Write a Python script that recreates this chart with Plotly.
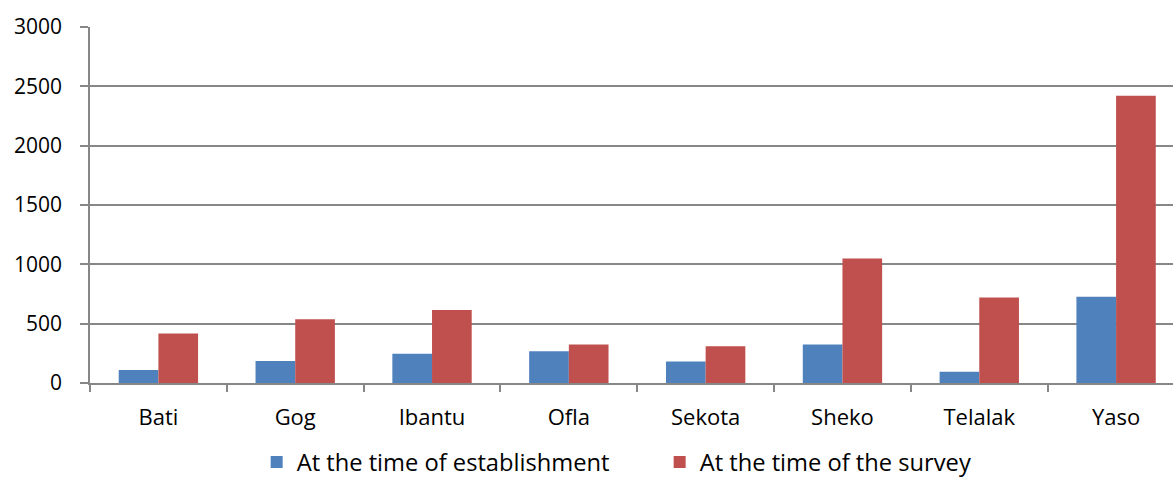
import plotly.graph_objects as go

categories = ["Bati", "Gog", "Ibantu", "Ofla", "Sekota", "Sheko", "Telalak", "Yaso"]
establishment = [110, 186, 246, 268, 182, 324, 95, 726]
survey = [418, 537, 616, 325, 310, 1050, 721, 2420]
y_ticks = [0, 500, 1000, 1500, 2000, 2500, 3000]

FONT = "Open Sans"
GRID = "#878787"

fig = go.Figure()
fig.add_trace(go.Bar(x=categories, y=establishment, name="At the time of establishment",
                     marker=dict(color="#4F81BD", line=dict(width=0))))
fig.add_trace(go.Bar(x=categories, y=survey, name="At the time of the survey",
                     marker=dict(color="#C0504D", line=dict(width=0))))

fig.update_layout(
    width=1173, height=484,
    margin=dict(l=90, r=0, t=27, b=101),
    paper_bgcolor="white", plot_bgcolor="white",
    barmode="group", bargap=0.42, bargroupgap=0,
    font=dict(family=FONT, size=21, color="black"),
    showlegend=True,
    legend=dict(orientation="h", x=0.526, xanchor="center", y=-0.284, yanchor="bottom",
                font=dict(size=23.7), entrywidth=358, entrywidthmode="pixels",
                traceorder="normal", tracegroupgap=0, itemwidth=30),
    xaxis=dict(type="category", range=[-0.5, 7.416], showgrid=False,
               showline=True, linecolor=GRID, linewidth=1.5,
               ticks="outside", tickson="boundaries", ticklen=7, tickcolor=GRID,
               tickwidth=1.5, tickfont=dict(size=22), ticklabelstandoff=14),
    yaxis=dict(range=[0, 3000], tickvals=y_ticks, showgrid=True, gridcolor=GRID,
               gridwidth=1.5, showline=True, linecolor=GRID, linewidth=1.5,
               ticks="outside", ticklen=8, tickcolor=GRID, tickwidth=1.5,
               zeroline=False, tickfont=dict(size=21), ticklabelstandoff=14),
)

fig.write_html("out.html")
